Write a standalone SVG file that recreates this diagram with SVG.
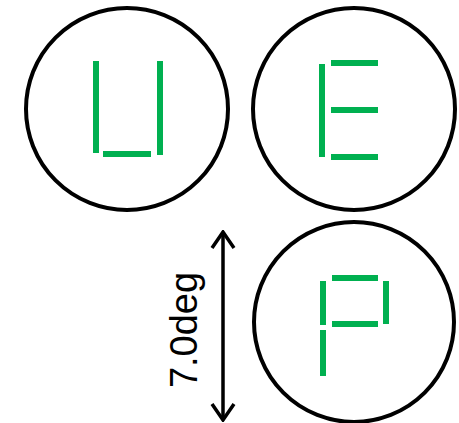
<svg xmlns="http://www.w3.org/2000/svg" width="459" height="423" viewBox="0 0 459 423">
<defs>
<style>
.ring{fill:none;stroke:#000;stroke-width:4}
.seg{stroke:#00b050;stroke-width:6;stroke-linecap:butt}
.conn{fill:none;stroke:#000;stroke-width:3.5}
.lbl{font-family:"Liberation Sans",Arial,sans-serif;font-size:38px;fill:#000}
</style>
<marker id="chev" viewBox="0 0 20 26" refX="18" refY="13" markerWidth="20" markerHeight="26" markerUnits="userSpaceOnUse" orient="auto-start-reverse">
<path d="M2,2 L18,13 L2,24" fill="none" stroke="#000" stroke-width="3.5"/>
</marker>
</defs>
<rect width="459" height="423" fill="#fff"/>
<g id="node-U">
<circle class="ring" cx="127" cy="109" r="101"/>
<line class="seg" x1="96" y1="61" x2="96" y2="107"/>
<line class="seg" x1="96" y1="107" x2="96" y2="153"/>
<line class="seg" x1="160" y1="61" x2="160" y2="108"/>
<line class="seg" x1="160" y1="108" x2="160" y2="155"/>
<line class="seg" x1="103" y1="154" x2="151" y2="154"/>
</g>
<g id="node-E">
<circle class="ring" cx="354" cy="109" r="101"/>
<line class="seg" x1="322" y1="64" x2="322" y2="110"/>
<line class="seg" x1="322" y1="110" x2="322" y2="157"/>
<line class="seg" x1="331" y1="63" x2="378" y2="63"/>
<line class="seg" x1="331" y1="110" x2="378" y2="110"/>
<line class="seg" x1="331" y1="157" x2="378" y2="157"/>
</g>
<g id="node-P">
<circle class="ring" cx="354" cy="322" r="100"/>
<line class="seg" x1="323" y1="281" x2="323" y2="325"/>
<line class="seg" x1="323" y1="330" x2="323" y2="376"/>
<line class="seg" x1="332" y1="278" x2="378" y2="278"/>
<line class="seg" x1="386" y1="281" x2="386" y2="324"/>
<line class="seg" x1="332" y1="324" x2="378" y2="324"/>
</g>
<g id="connectors">
<line class="conn" x1="223" y1="232" x2="223" y2="420" marker-start="url(#chev)" marker-end="url(#chev)"/>
</g>
<g id="label">
<text class="lbl" transform="translate(197,330) rotate(-90)" text-anchor="middle">7.0deg</text>
</g>
</svg>
